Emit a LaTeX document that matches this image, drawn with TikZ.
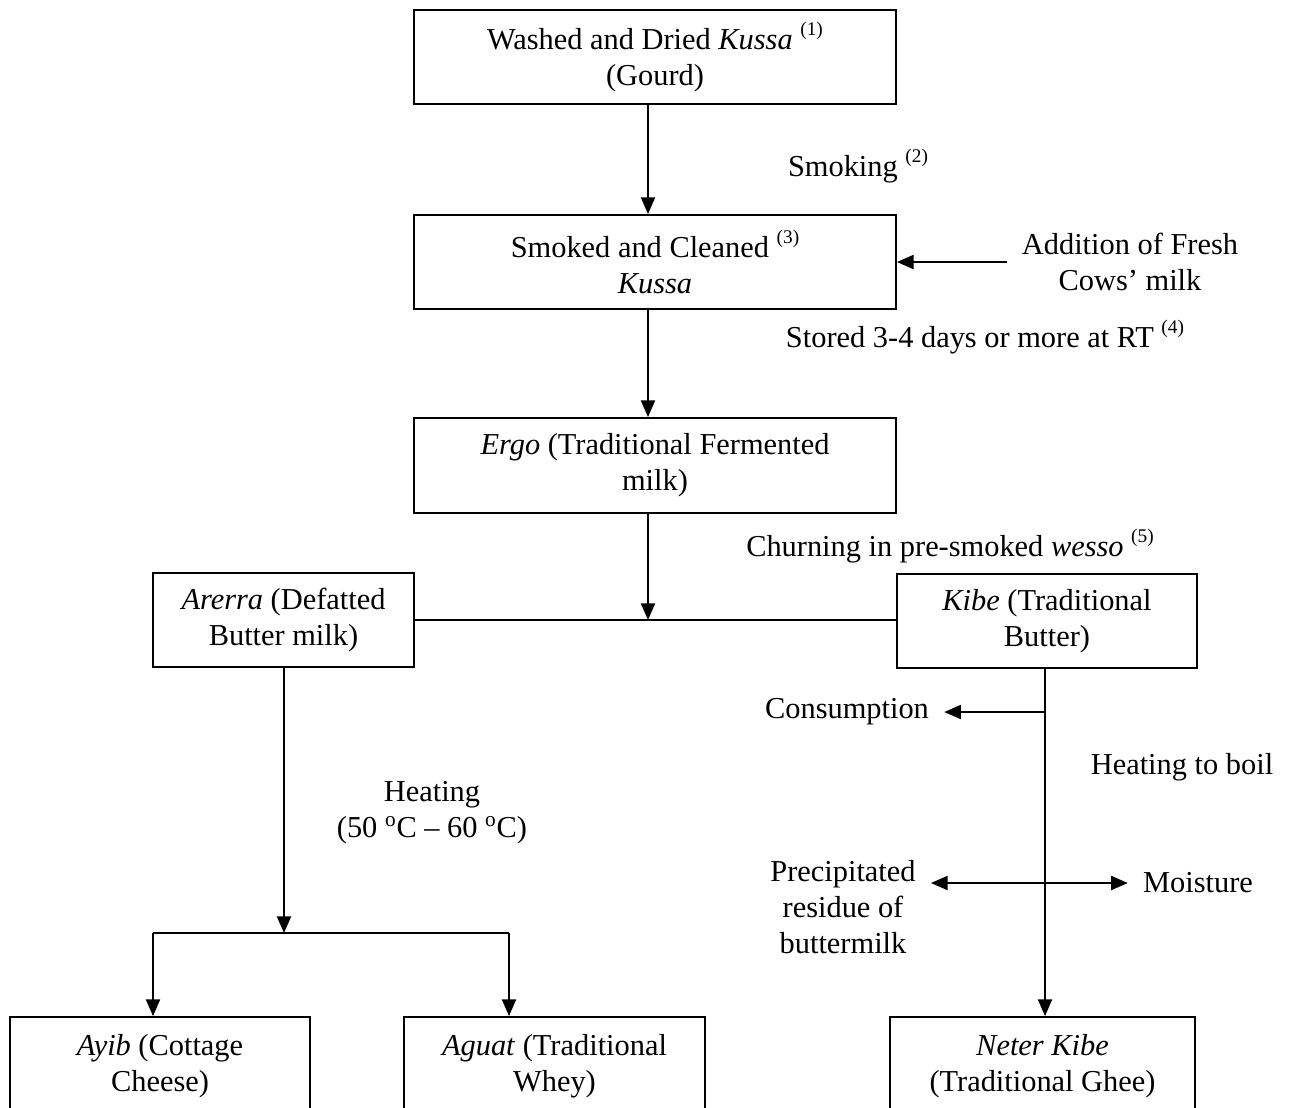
\documentclass[tikz,border=0pt]{standalone}
\usepackage{fontspec}
\setmainfont{Liberation Serif}
\usetikzlibrary{arrows.meta}

\tikzset{
  stagebox/.style={draw, line width=1.1pt, inner sep=0pt, align=center,
    font=\fontsize{17.3pt}{20.5pt}\selectfont},
  steplabel/.style={inner sep=0.3cm, align=center,
    font=\fontsize{17.3pt}{20.5pt}\selectfont},
  flow/.style={line width=1.1pt, -{Triangle[length=9.5pt,width=8pt]}},
  flowboth/.style={line width=1.1pt, {Triangle[length=9.5pt,width=8pt]}-{Triangle[length=9.5pt,width=8pt]}},
  joinline/.style={line width=1.1pt}
}
\newcommand{\fnote}[1]{\raisebox{0.45em}{\fontsize{11pt}{11pt}\selectfont(#1)}}

\begin{document}
\begin{tikzpicture}[x=0.02cm, y=-0.02cm]
    \useasboundingbox (0,0) rectangle (1291,1107);

    % Boxes
    \node[stagebox, minimum width=9.64cm, minimum height=1.88cm] (wash) at (655,57)
      {Washed and Dried \textit{Kussa} \fnote{1}\\(Gourd)};
    \node[stagebox, minimum width=9.64cm, minimum height=1.88cm] (smoked) at (655,262)
      {Smoked and Cleaned \fnote{3}\\\textit{Kussa}};
    \node[stagebox, minimum width=9.64cm, minimum height=1.9cm] (ergo) at (655,465.5)
      {\textit{Ergo} (Traditional Fermented\\milk)};
    \node[stagebox, minimum width=5.22cm, minimum height=1.88cm] (arerra) at (283.5,620)
      {\textit{Arerra} (Defatted\\Butter milk)};
    \node[stagebox, minimum width=6cm, minimum height=1.88cm] (kibe) at (1047,621)
      {\textit{Kibe} (Traditional\\Butter)};
    \node[stagebox, minimum width=6cm, minimum height=1.96cm] (ayib) at (160,1066)
      {\textit{Ayib} (Cottage\\Cheese)};
    \node[stagebox, minimum width=6.02cm, minimum height=1.96cm] (aguat) at (554.5,1066)
      {\textit{Aguat} (Traditional\\Whey)};
    \node[stagebox, minimum width=6.1cm, minimum height=1.96cm] (neter) at (1042.5,1066)
      {\textit{Neter Kibe}\\(Traditional Ghee)};

    % Step labels
    \node[steplabel] (smoking) at (858,166) {Smoking \fnote{2}};
    \node[steplabel] (milk) at (1130,262) {Addition of Fresh\\Cows’ milk};
    \node[steplabel] (store) at (985,337) {Stored 3-4 days or more at RT \fnote{4}};
    \node[steplabel] (churning) at (950,546) {Churning in pre-smoked \textit{wesso} \fnote{5}};
    \node[steplabel] (heating) at (432,813) {Heating\\(50 \textsuperscript{o}C – 60 \textsuperscript{o}C)};
    \node[steplabel] (consumption) at (847,712) {Consumption};
    \node[steplabel] (boiling) at (1182,767) {Heating to boil};
    \node[steplabel] (residue) at (843,907) {Precipitated\\residue of\\buttermilk};
    \node[steplabel] (moisture) at (1198,883) {Moisture};

    % Junction points
    \coordinate (spine) at (648,0);
    \coordinate (boil) at (1045,0);
    \coordinate (eat) at (1045,712);
    \coordinate (split) at (284,933);
    \coordinate (splitL) at (153,933);
    \coordinate (splitR) at (509,933);

    % Main line
    \draw[flow] (wash.south -| spine) -- (smoked.north -| spine);
    \draw[flow] (milk.west) -- (milk.west -| smoked.east);
    \draw[flow] (smoked.south -| spine) -- (ergo.north -| spine);
    \draw[flow] (ergo.south -| spine) -- (spine |- arerra.east);
    \draw[joinline] (arerra.east) -- (arerra.east -| kibe.west);

    % Buttermilk branch
    \draw[flow] (split |- arerra.south) -- (split);
    \draw[joinline] (splitL) -- (splitR);
    \draw[flow] (splitL) -- (splitL |- ayib.north);
    \draw[flow] (splitR) -- (splitR |- aguat.north);

    % Butter branch
    \draw[flow] (kibe.south -| boil) -- (boil |- neter.north);
    \draw[flow] (eat) -- (consumption.east);
    \draw[flowboth] (moisture.west -| residue.east) -- (moisture.west);
\end{tikzpicture}
\end{document}
